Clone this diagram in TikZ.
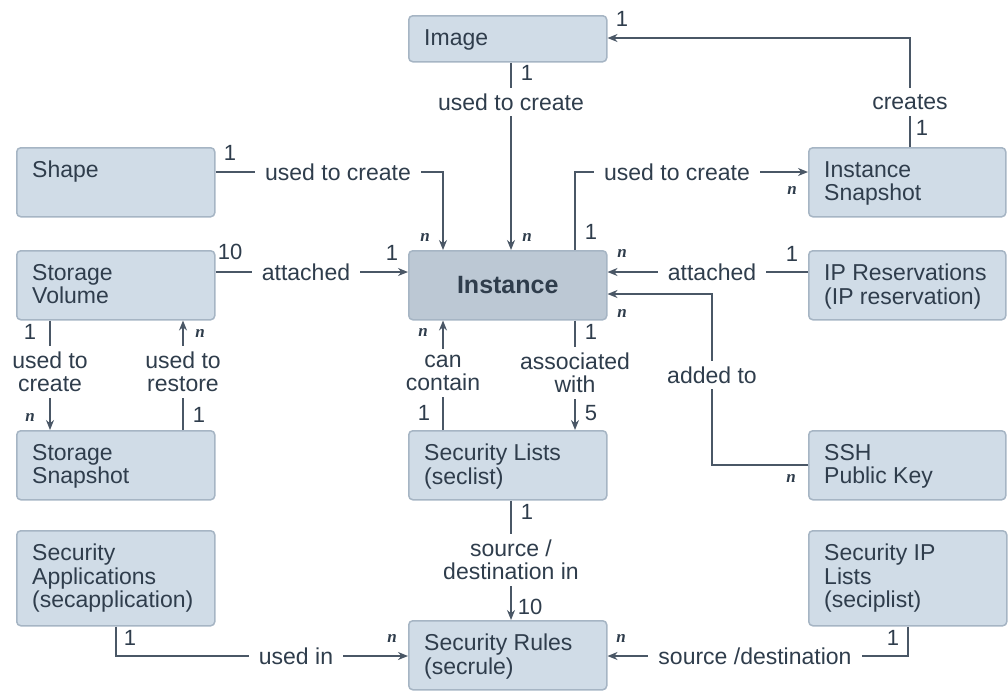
\documentclass[tikz,border=0pt]{standalone}
\usepackage{fontspec}
\setmainfont{Liberation Sans}
\newfontfamily\nfont{Liberation Serif}
\usetikzlibrary{arrows.meta}
\definecolor{boxfill}{HTML}{D0DCE7}
\definecolor{boxline}{HTML}{A6B5C4}
\definecolor{instfill}{HTML}{BCC8D4}
\definecolor{txt}{HTML}{2F3D4C}
\definecolor{ln}{HTML}{4A5766}
\begin{document}
\begin{tikzpicture}[x=1pt,y=-1pt,
 box/.style={draw=boxline, fill=boxfill, line width=1.5pt, rounded corners=4pt, anchor=north west, inner sep=0pt, minimum width=198pt, minimum height=69pt},
 btext/.style={anchor=north west, inner sep=0pt, align=left, text=txt, font=\fontsize{23}{23.5}\selectfont},
 lbl/.style={fill=white, text=txt, inner xsep=10pt, inner ysep=6pt, align=center, font=\fontsize{23}{23}\selectfont},
 num/.style={text=txt, inner sep=0pt, font=\fontsize{22}{22}\selectfont},
 mn/.style={text=txt, inner sep=0pt, font=\nfont\bfseries\itshape\fontsize{17}{17}\selectfont},
 conn/.style={draw=ln, line width=1.5pt, -{Stealth[length=10pt,width=8pt]}}
]
\useasboundingbox (0,0) rectangle (1008,691);
% helper coordinates
\coordinate (x50) at (50,0);
\coordinate (x116) at (116,0);
\coordinate (x183) at (183,0);
\coordinate (x443) at (443,0);
\coordinate (x511) at (511,0);
\coordinate (x575) at (575,0);
\coordinate (x712) at (712,0);
\coordinate (x908) at (908,0);
\coordinate (x910) at (910,0);
\coordinate (y38) at (0,38);
\coordinate (y172) at (0,172);
\coordinate (y272) at (0,272);
\coordinate (y294) at (0,294);
\coordinate (y465) at (0,465);
\coordinate (y656) at (0,656);
% boxes
\node[box, minimum height=46pt] (img) at (408,15) {};
\node[box] (shape) at (16,147) {};
\node[box, minimum width=197pt] (isnap) at (808,147) {};
\node[box] (sv) at (16,250) {};
\node[box, fill=instfill, text=txt, font=\bfseries\fontsize{25}{25}\selectfont] (inst) at (408,250) {Instance};
\node[box, minimum width=197pt] (ipr) at (808,250) {};
\node[box] (ssnap) at (16,430) {};
\node[box] (sl) at (408,430) {};
\node[box, minimum width=197pt] (ssh) at (808,430) {};
\node[box, minimum height=95pt] (sapp) at (16,530) {};
\node[box, minimum width=198pt, minimum height=95pt] (sip) at (808,530) {};
\node[box] (sr) at (408,620) {};
% box texts
\node[btext] (img-t) at ([xshift=16pt,yshift=-14pt]img.north west) {Image};
\node[btext] (shape-t) at ([xshift=16pt,yshift=-14pt]shape.north west) {Shape};
\node[btext] (isnap-t) at ([xshift=16pt,yshift=-14pt]isnap.north west) {Instance\\Snapshot};
\node[btext] (sv-t) at ([xshift=16pt,yshift=-14pt]sv.north west) {Storage\\Volume};
\node[btext] (ipr-t) at ([xshift=16pt,yshift=-14pt]ipr.north west) {IP Reservations\\(IP reservation)};
\node[btext] (ssnap-t) at ([xshift=16pt,yshift=-14pt]ssnap.north west) {Storage\\Snapshot};
\node[btext] (sl-t) at ([xshift=16pt,yshift=-14pt]sl.north west) {Security Lists\\(seclist)};
\node[btext] (ssh-t) at ([xshift=16pt,yshift=-14pt]ssh.north west) {SSH\\Public Key};
\node[btext] (sapp-t) at ([xshift=16pt,yshift=-14pt]sapp.north west) {Security\\Applications\\(secapplication)};
\node[btext] (sip-t) at ([xshift=16pt,yshift=-14pt]sip.north west) {Security IP\\Lists\\(seciplist)};
\node[btext] (sr-t) at ([xshift=16pt,yshift=-14pt]sr.north west) {Security Rules\\(secrule)};
% connectors
\draw[conn] (img.south -| x511) -- (inst.north -| x511);
\draw[conn] (shape.east |- y172) -| (inst.north -| x443);
\draw[conn] (inst.north -| x575) |- (isnap.west |- y172);
\draw[conn] (isnap.north -| x910) |- (img.east |- y38);
\draw[conn] (sv.east |- y272) -- (inst.west |- y272);
\draw[conn] (ipr.west |- y272) -- (inst.east |- y272);
\draw[conn] (ssh.west |- y465) -| (x712 |- y294) -- (inst.east |- y294);
\draw[conn] (sv.south -| x50) -- (ssnap.north -| x50);
\draw[conn] (ssnap.north -| x183) -- (sv.south -| x183);
\draw[conn] (sl.north -| x443) -- (inst.south -| x443);
\draw[conn] (inst.south -| x575) -- (sl.north -| x575);
\draw[conn] (sl.south -| x511) -- (sr.north -| x511);
\draw[conn] (sapp.south -| x116) |- (sr.west |- y656);
\draw[conn] (sip.south -| x908) |- (sr.east |- y656);
% connector labels
\node[lbl] (l1) at (511,102) {used to create};
\node[lbl] (l2) at (338,172) {used to create};
\node[lbl] (l3) at (677,172) {used to create};
\node[lbl] (l4) at (910,102) {creates};
\node[lbl] (l5) at (306,272) {attached};
\node[lbl] (l6) at (712,272) {attached};
\node[lbl] (l7) at (712,375) {added to};
\node[lbl] (l8) at (50,372) {used to\\create};
\node[lbl] (l9) at (183,372) {used to\\restore};
\node[lbl] (l10) at (443,373) {can\\contain};
\node[lbl] (l11) at (575,373) {associated\\with};
\node[lbl] (l12) at (511,560) {source /\\destination in};
\node[lbl] (l13) at (296,656) {used in};
\node[lbl] (l14) at (755,656) {source /destination};
% multiplicities
\node[num] (m1) at (622,19) {1};
\node[num] (m2) at (527,73) {1};
\node[num] (m3) at (230,153) {1};
\node[num] (m4) at (230,252) {10};
\node[num] (m5) at (392,253) {1};
\node[num] (m6) at (792,254) {1};
\node[num] (m7) at (591,232) {1};
\node[num] (m8) at (922,128) {1};
\node[num] (m9) at (30,332) {1};
\node[num] (m10) at (199,415) {1};
\node[num] (m11) at (424,413) {1};
\node[num] (m12) at (591,332) {1};
\node[num] (m13) at (591,413) {5};
\node[num] (m14) at (527,512) {1};
\node[num] (m15) at (530,607) {10};
\node[num] (m16) at (130,638) {1};
\node[num] (m17) at (893,638) {1};
\node[mn] (n1) at (425,237) {n};
\node[mn] (n2) at (527,237) {n};
\node[mn] (n3) at (792,190) {n};
\node[mn] (n4) at (622,253) {n};
\node[mn] (n5) at (622,313) {n};
\node[mn] (n6) at (30,417) {n};
\node[mn] (n7) at (200,333) {n};
\node[mn] (n8) at (423,332) {n};
\node[mn] (n9) at (791,478) {n};
\node[mn] (n10) at (392,638) {n};
\node[mn] (n11) at (621,638) {n};
\end{tikzpicture}
\end{document}
